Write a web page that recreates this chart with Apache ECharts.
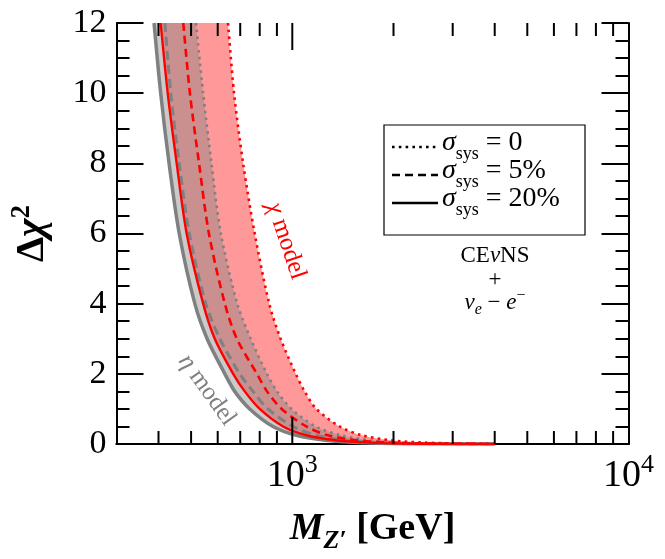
<!DOCTYPE html>
<html><head><meta charset="utf-8">
<script src="https://cdn.jsdelivr.net/npm/echarts@6/dist/echarts.min.js"></script>
<style>html,body{margin:0;padding:0;background:#fff}#c{width:665px;height:559px}</style>
</head><body><div id="c"></div>
<script>
// Δχ² levels at which M_Z' (GeV) was read for each curve
const deltaChi2 = [12, 10, 8, 6, 4, 3, 2, 1.5, 1, 0.5, 0.25, 0.1, 0.04, 0.015, 0.005, 0];
// η model (gray)
const etaSys20 = [388, 406, 430, 461, 513, 558, 630, 674, 747, 876, 1028, 1271, 1571, 1969, 2536, 4000];
const etaSys5  = [418, 435, 461, 494, 553, 609, 698, 764, 847, 1005, 1179, 1458, 1801, 2257, 2907, 4000];
const etaSys0  = [517, 543, 575, 613, 686, 752, 841, 901, 994, 1173, 1392, 1721, 2127, 2665, 3433, 4000];
// χ model (red)
const chiSys20 = [406, 426, 453, 485, 543, 588, 667, 722, 800, 939, 1101, 1361, 1683, 2108, 2715, 4000];
const chiSys5  = [474, 496, 528, 565, 630, 684, 785, 841, 930, 1101, 1274, 1574, 1946, 2438, 3140, 4000];
const chiSys0  = [644, 671, 714, 773, 854, 923, 1024, 1088, 1179, 1383, 1607, 1987, 2455, 3077, 3600, 4000];

const xMinorTicks = [400, 500, 600, 700, 800, 900, 2000, 3000, 4000, 5000, 6000, 7000, 8000, 9000];
const xMajorTicks = [1000];
const xLabelExponents = [3, 4];
const legendValues = ['0', '5%', '20%'];

const SERIF = '"Liberation Serif", "DejaVu Serif", serif';
const GRAY = '#808080';
const RED = '#ff0000';
const SM = 0.3;

function pairs(xs) { return xs.map((m, i) => [m, deltaChi2[i]]); }

function bandRender(left, right, color) {
  return function (params, api) {
    const pts = [];
    const l0 = api.coord([left[0], deltaChi2[0]]);
    pts.push([l0[0], l0[1] - 40]);
    for (let i = 0; i < deltaChi2.length; i++) pts.push(api.coord([left[i], deltaChi2[i]]));
    for (let i = deltaChi2.length - 2; i >= 0; i--) pts.push(api.coord([right[i], deltaChi2[i]]));
    const r0 = api.coord([right[0], deltaChi2[0]]);
    pts.push([r0[0], r0[1] - 40]);
    return { type: 'polygon', shape: { points: pts, smooth: SM }, style: { fill: color } };
  };
}

function line(name, data, color, width, dash, z) {
  return {
    name, type: 'line', data: pairs(data), showSymbol: false, symbol: 'none', smooth: SM,
    lineStyle: { color, width, type: dash, cap: 'butt' }, z: z || 3, silent: true, animation: false
  };
}

const chart = echarts.init(document.getElementById('c'), null, { renderer: 'canvas' });

const option = {
  animation: false,
  backgroundColor: '#fff',
  grid: { left: 116.5, right: 36.5, top: 23, bottom: 110, containLabel: false },
  xAxis: [{
    type: 'log', logBase: 10, min: 300, max: 10000, position: 'bottom',
    axisLine: { lineStyle: { color: '#000', width: 2 } },
    axisTick: { show: false }, splitLine: { show: false }, minorTick: { show: false },
    axisLabel: {
      margin: 8, color: '#000',
      formatter: v => {
        const e = Math.log10(v), r = Math.round(e);
        return (Math.abs(e - r) < 1e-6 && xLabelExponents.includes(r)) ? '{b|10}{s|' + r + '}' : '';
      },
      rich: {
        b: { fontFamily: SERIF, fontSize: 38, color: '#000', padding: [5, 0, 0, 0] },
        s: { fontFamily: SERIF, fontSize: 26, color: '#000', verticalAlign: 'top' }
      }
    },
    name: '{m|M}{sub|Z′}{t| [GeV]}', nameLocation: 'middle', nameGap: 66,
    nameTextStyle: {
      rich: {
        m: { fontFamily: SERIF, fontSize: 38, fontWeight: 'bold', fontStyle: 'italic', color: '#000', padding: [0, 0, 6, 0] },
        sub: { fontFamily: SERIF, fontSize: 26, fontWeight: 'bold', fontStyle: 'italic', color: '#000', verticalAlign: 'bottom' },
        t: { fontFamily: SERIF, fontSize: 38, fontWeight: 'bold', color: '#000', padding: [0, 0, 6, 0] }
      }
    }
  }, {
    type: 'log', logBase: 10, min: 300, max: 10000, position: 'top',
    axisLine: { lineStyle: { color: '#000', width: 2 } },
    axisTick: { show: false }, axisLabel: { show: false }, splitLine: { show: false }
  }],
  yAxis: [{
    type: 'value', min: 0, max: 12, interval: 2, position: 'left',
    axisLine: { show: true, lineStyle: { color: '#000', width: 2 } },
    axisTick: { show: true, inside: true, length: 27, lineStyle: { color: '#000', width: 2 } },
    minorTick: { show: true, splitNumber: 4, length: 13, lineStyle: { color: '#000', width: 2 } },
    splitLine: { show: false }, minorSplitLine: { show: false },
    axisLabel: { margin: 10, color: '#000', fontFamily: SERIF, fontSize: 34 },
    name: '{d|Δ}{c|χ}{s|2}', nameLocation: 'middle', nameGap: 64, nameRotate: 90,
    nameTextStyle: {
      rich: {
        d: { fontFamily: SERIF, fontSize: 40, fontWeight: 'bold', color: '#000', padding: [4, 0, 0, 0] },
        c: { fontFamily: SERIF, fontSize: 40, fontWeight: 'bold', fontStyle: 'italic', color: '#000', padding: [4, 0, 0, 0] },
        s: { fontFamily: SERIF, fontSize: 27, fontWeight: 'bold', color: '#000', verticalAlign: 'top' }
      }
    }
  }, {
    type: 'value', min: 0, max: 12, interval: 2, position: 'right',
    axisLine: { show: true, lineStyle: { color: '#000', width: 2 } },
    axisTick: { show: true, inside: true, length: 27, lineStyle: { color: '#000', width: 2 } },
    minorTick: { show: true, splitNumber: 4, length: 13, lineStyle: { color: '#000', width: 2 } },
    splitLine: { show: false }, axisLabel: { show: false }
  }],
  series: [
    { type: 'custom', name: 'χ band', data: [[1000, 6]], clip: true, z: 1, silent: true,
      renderItem: bandRender(chiSys20, chiSys0, 'rgba(255,0,0,0.4)') },
    { type: 'custom', name: 'η band', data: [[1000, 6]], clip: true, z: 1, silent: true,
      renderItem: bandRender(etaSys20, etaSys0, 'rgba(128,128,128,0.42)') },
    line('η 0', etaSys0, GRAY, 2.6, [2.6, 4.2], 3),
    line('η 5%', etaSys5, GRAY, 3, [9, 5], 3),
    line('η 20%', etaSys20, GRAY, 3.5, 'solid', 3),
    line('χ 0', chiSys0, RED, 2.6, [2.6, 4.2], 4),
    line('χ 5%', chiSys5, RED, 2.6, [8, 5], 4),
    line('χ 20%', chiSys20, RED, 2.4, 'solid', 4),
    { type: 'custom', name: 'ticks', data: [[1000, 6]], clip: false, z: 10, silent: true,
      renderItem: function (params, api) {
        const cs = params.coordSys;
        const children = [];
        const add = (v, len) => {
          const x = api.coord([v, 6])[0];
          children.push({ type: 'line', shape: { x1: x, y1: cs.y + cs.height, x2: x, y2: cs.y + cs.height - len }, style: { stroke: '#000', lineWidth: 2 } });
          children.push({ type: 'line', shape: { x1: x, y1: cs.y, x2: x, y2: cs.y + len }, style: { stroke: '#000', lineWidth: 2 } });
        };
        xMinorTicks.forEach(v => add(v, 13));
        xMajorTicks.forEach(v => add(v, 27));
        return { type: 'group', children };
      } }
  ],
  graphic: []
};

// legend box and annotations
const lg = [];
lg.push({ type: 'rect', z: 100, shape: { x: 384, y: 125, width: 201, height: 110 }, style: { fill: '#fff', stroke: '#000', lineWidth: 1.2 } });
const dashes = [[2.6, 4.2], [8, 5], null];
const rowY = [147, 175, 203];
const legRich = {
  g: { fontFamily: SERIF, fontSize: 28, fontStyle: 'italic', fill: '#000', padding: [0, 0, 6, 0] },
  sub: { fontFamily: SERIF, fontSize: 18, fill: '#000', verticalAlign: 'bottom' },
  t: { fontFamily: SERIF, fontSize: 28, fill: '#000', padding: [0, 0, 6, 0] }
};
legendValues.forEach((val, i) => {
  lg.push({ type: 'line', z: 101, shape: { x1: 392, y1: rowY[i], x2: 438, y2: rowY[i] },
    style: { stroke: '#000', lineWidth: 2.6, lineDash: dashes[i] || null } });
  lg.push({ type: 'text', z: 101, x: 442, y: rowY[i] - 1,
    style: { text: '{g|σ}{sub|sys}{t| = ' + val + '}', rich: legRich, align: 'left', verticalAlign: 'middle', fill: '#000' } });
});
lg.push({ type: 'text', z: 50, x: 286, y: 241, rotation: -71.4 * Math.PI / 180,
  style: { text: '{i|χ}{t| model}', align: 'center', verticalAlign: 'middle',
    rich: { i: { fontFamily: SERIF, fontSize: 25, fontStyle: 'italic', fill: RED }, t: { fontFamily: SERIF, fontSize: 25, fill: RED } } } });
lg.push({ type: 'text', z: 50, x: 207, y: 390, rotation: -54.4 * Math.PI / 180,
  style: { text: '{i|η}{t| model}', align: 'center', verticalAlign: 'middle',
    rich: { i: { fontFamily: SERIF, fontSize: 25, fontStyle: 'italic', fill: GRAY }, t: { fontFamily: SERIF, fontSize: 25, fill: GRAY } } } });
const pr = { fontFamily: SERIF, fontSize: 23, fill: '#000' };
lg.push({ type: 'text', z: 50, x: 495, y: 256,
  style: { text: '{r|CE}{i|ν}{r|NS}', align: 'center', verticalAlign: 'middle',
    rich: { r: pr, i: Object.assign({}, pr, { fontStyle: 'italic' }) } } });
lg.push({ type: 'text', z: 50, x: 495, y: 280,
  style: { text: '+', align: 'center', verticalAlign: 'middle', font: '23px ' + SERIF, fill: '#000' } });
lg.push({ type: 'text', z: 50, x: 495, y: 303,
  style: { text: '{i|ν}{sub|e}{r| − }{i|e}{sup|−}', align: 'center', verticalAlign: 'middle',
    rich: {
      r: Object.assign({}, pr, { padding: [3, 0, 4, 0] }),
      i: Object.assign({}, pr, { fontStyle: 'italic', padding: [3, 0, 4, 0] }),
      sub: { fontFamily: SERIF, fontSize: 16, fontStyle: 'italic', fill: '#000', verticalAlign: 'bottom' },
      sup: { fontFamily: SERIF, fontSize: 16, fill: '#000', verticalAlign: 'top' }
    } } });
option.graphic = lg;

chart.setOption(option);
</script></body></html>
